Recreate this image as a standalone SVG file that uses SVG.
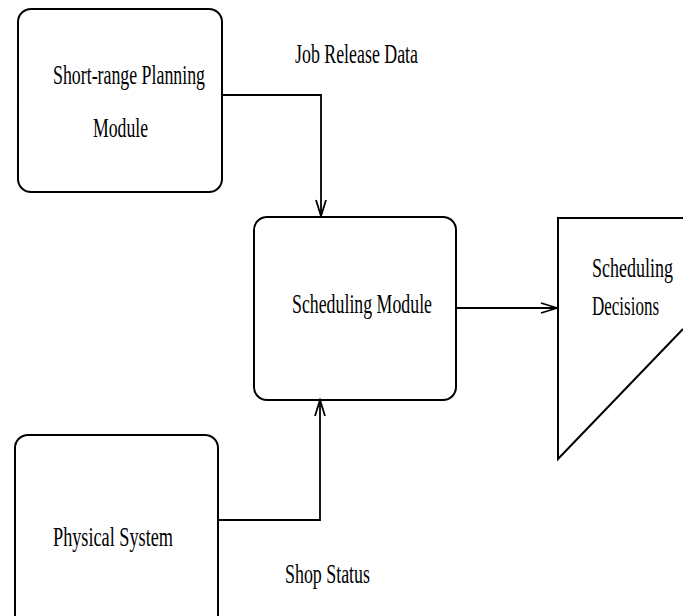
<svg xmlns="http://www.w3.org/2000/svg" width="683" height="616" viewBox="0 0 683 616">
  <style>
    .box { fill: none; stroke: #000; stroke-width: 2; }
    .wire { fill: none; stroke: #000; stroke-width: 1.8; }
    .lbl { font-family: "Liberation Serif", "Times New Roman", serif; font-size: 28px; fill: #000; }
  </style>
  <defs>
    <marker id="open" markerUnits="userSpaceOnUse" markerWidth="20" markerHeight="16" viewBox="-17 -8 18 16" refX="0" refY="0" orient="auto">
      <path d="M-16,-5 L0,0 L-16,5" fill="none" stroke="#000" stroke-width="1.8"/>
    </marker>
  </defs>
  <rect width="683" height="616" fill="#fff"/>

  <g id="connectors">
    <path class="wire" d="M222,95 H321 V216" marker-end="url(#open)"/>
    <path class="wire" d="M218,520 H320 V400" marker-end="url(#open)"/>
    <path class="wire" d="M456,308 H557" marker-end="url(#open)"/>
    <text class="lbl" x="295" y="63" textLength="123" lengthAdjust="spacingAndGlyphs">Job Release Data</text>
    <text class="lbl" x="285" y="583" textLength="85" lengthAdjust="spacingAndGlyphs">Shop Status</text>
  </g>

  <g id="planning">
    <rect class="box" x="18" y="9" width="204" height="183" rx="13"/>
    <text class="lbl" x="53" y="84" textLength="152" lengthAdjust="spacingAndGlyphs">Short-range Planning</text>
    <text class="lbl" x="93" y="137" textLength="55" lengthAdjust="spacingAndGlyphs">Module</text>
  </g>

  <g id="scheduling">
    <rect class="box" x="254" y="217" width="202" height="183" rx="13"/>
    <text class="lbl" x="292" y="313" textLength="140" lengthAdjust="spacingAndGlyphs">Scheduling Module</text>
  </g>

  <g id="physical">
    <rect class="box" x="15" y="435" width="203" height="200" rx="13"/>
    <text class="lbl" x="53" y="546" textLength="120" lengthAdjust="spacingAndGlyphs">Physical System</text>
  </g>

  <g id="decisions">
    <path class="box" d="M683,218 H558 V459 L683,329"/>
    <text class="lbl" x="592" y="277" textLength="81" lengthAdjust="spacingAndGlyphs">Scheduling</text>
    <text class="lbl" x="592" y="315" textLength="67" lengthAdjust="spacingAndGlyphs">Decisions</text>
  </g>
</svg>
